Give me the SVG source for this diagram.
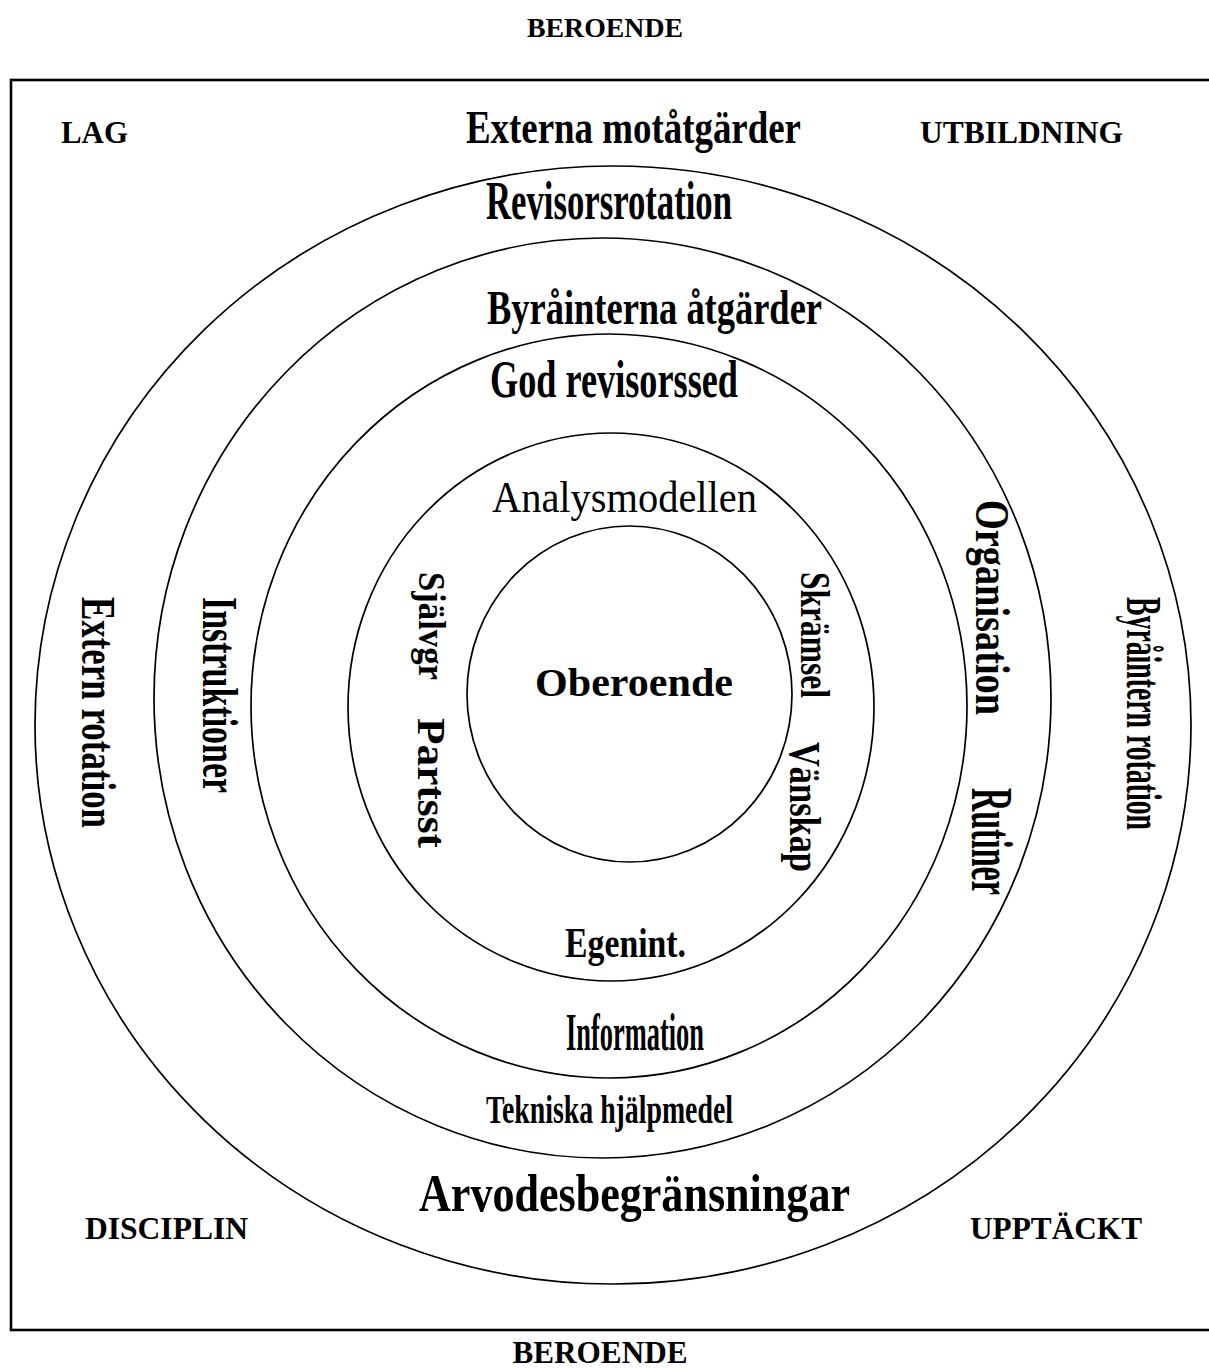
<svg xmlns="http://www.w3.org/2000/svg" width="1209" height="1369" viewBox="0 0 1209 1369">
<style>
text{font-family:"Liberation Serif","Times New Roman",serif;fill:#000}
.b{font-weight:bold}
.ring{fill:none;stroke:#000;stroke-width:1.7}
.frame{fill:none;stroke:#000;stroke-width:2.6}
</style>
<rect width="1209" height="1369" fill="#fff"/>
<g id="frame">
<rect class="frame" x="11" y="80" width="1215" height="1250"/>
</g>
<g id="rings">
<ellipse id="ring-outer" class="ring" cx="613" cy="725" rx="578" ry="559"/>
<ellipse id="ring-2" class="ring" cx="602.5" cy="698" rx="448.5" ry="460"/>
<ellipse id="ring-3" class="ring" cx="609" cy="706" rx="358" ry="372"/>
<ellipse id="ring-4" class="ring" cx="611" cy="707" rx="263" ry="274"/>
<ellipse id="ring-inner" class="ring" cx="629.5" cy="694" rx="162.5" ry="168"/>
</g>
<g id="connectors"></g>
<g id="corner-labels">
<text class="b" x="605" y="37" font-size="27" text-anchor="middle" textLength="156" lengthAdjust="spacingAndGlyphs">BEROENDE</text>
<text class="b" x="600" y="1363" font-size="31" text-anchor="middle" textLength="175" lengthAdjust="spacingAndGlyphs">BEROENDE</text>
<text class="b" x="61" y="143" font-size="31" textLength="67" lengthAdjust="spacingAndGlyphs">LAG</text>
<text class="b" x="920" y="143" font-size="31" textLength="203" lengthAdjust="spacingAndGlyphs">UTBILDNING</text>
<text class="b" x="85" y="1239" font-size="31" textLength="163" lengthAdjust="spacingAndGlyphs">DISCIPLIN</text>
<text class="b" x="970" y="1239" font-size="31" textLength="172" lengthAdjust="spacingAndGlyphs">UPPTÄCKT</text>
</g>
<g id="outer-ring-labels">
<text class="b" x="466" y="143" font-size="47" textLength="335" lengthAdjust="spacingAndGlyphs">Externa motåtgärder</text>
<text class="b" x="486" y="219" font-size="54" textLength="246" lengthAdjust="spacingAndGlyphs">Revisorsrotation</text>
<text class="b" x="419" y="1211" font-size="53" textLength="431" lengthAdjust="spacingAndGlyphs">Arvodesbegränsningar</text>
<text class="b" transform="translate(82,597) rotate(90)" font-size="48" textLength="231" lengthAdjust="spacingAndGlyphs">Extern rotation</text>
<text class="b" transform="translate(1127,597) rotate(90)" font-size="51" textLength="233" lengthAdjust="spacingAndGlyphs">Byråintern rotation</text>
</g>
<g id="ring2-labels">
<text class="b" x="487" y="324" font-size="49" textLength="335" lengthAdjust="spacingAndGlyphs">Byråinterna åtgärder</text>
<text class="b" x="486" y="1123" font-size="40" textLength="247" lengthAdjust="spacingAndGlyphs">Tekniska hjälpmedel</text>
<text class="b" transform="translate(203,597) rotate(90)" font-size="50" textLength="196" lengthAdjust="spacingAndGlyphs">Instruktioner</text>
</g>
<g id="ring3-labels">
<text class="b" x="490" y="397" font-size="53" textLength="248" lengthAdjust="spacingAndGlyphs">God revisorssed</text>
<text class="b" x="566" y="1050" font-size="52" textLength="138" lengthAdjust="spacingAndGlyphs">Information</text>
<text class="b" transform="translate(976,500) rotate(90)" font-size="48" textLength="215" lengthAdjust="spacingAndGlyphs">Organisation</text>
<text class="b" transform="translate(972,788) rotate(90)" font-size="59" textLength="107" lengthAdjust="spacingAndGlyphs">Rutiner</text>
</g>
<g id="ring4-labels">
<text x="492" y="512" font-size="45" textLength="265" lengthAdjust="spacingAndGlyphs">Analysmodellen</text>
<text class="b" x="565" y="957" font-size="43" textLength="121" lengthAdjust="spacingAndGlyphs">Egenint.</text>
<text class="b" transform="translate(419,572) rotate(90)" font-size="38" textLength="108" lengthAdjust="spacingAndGlyphs">Självgr</text>
<text class="b" transform="translate(418,718) rotate(90)" font-size="40" textLength="130" lengthAdjust="spacingAndGlyphs">Partsst</text>
<text class="b" transform="translate(801,572) rotate(90)" font-size="42" textLength="126" lengthAdjust="spacingAndGlyphs">Skrämsel</text>
<text class="b" transform="translate(790,742) rotate(90)" font-size="45" textLength="130" lengthAdjust="spacingAndGlyphs">Vänskap</text>
</g>
<g id="core">
<text class="b" x="535" y="696" font-size="41" textLength="198" lengthAdjust="spacingAndGlyphs">Oberoende</text>
</g>
</svg>
